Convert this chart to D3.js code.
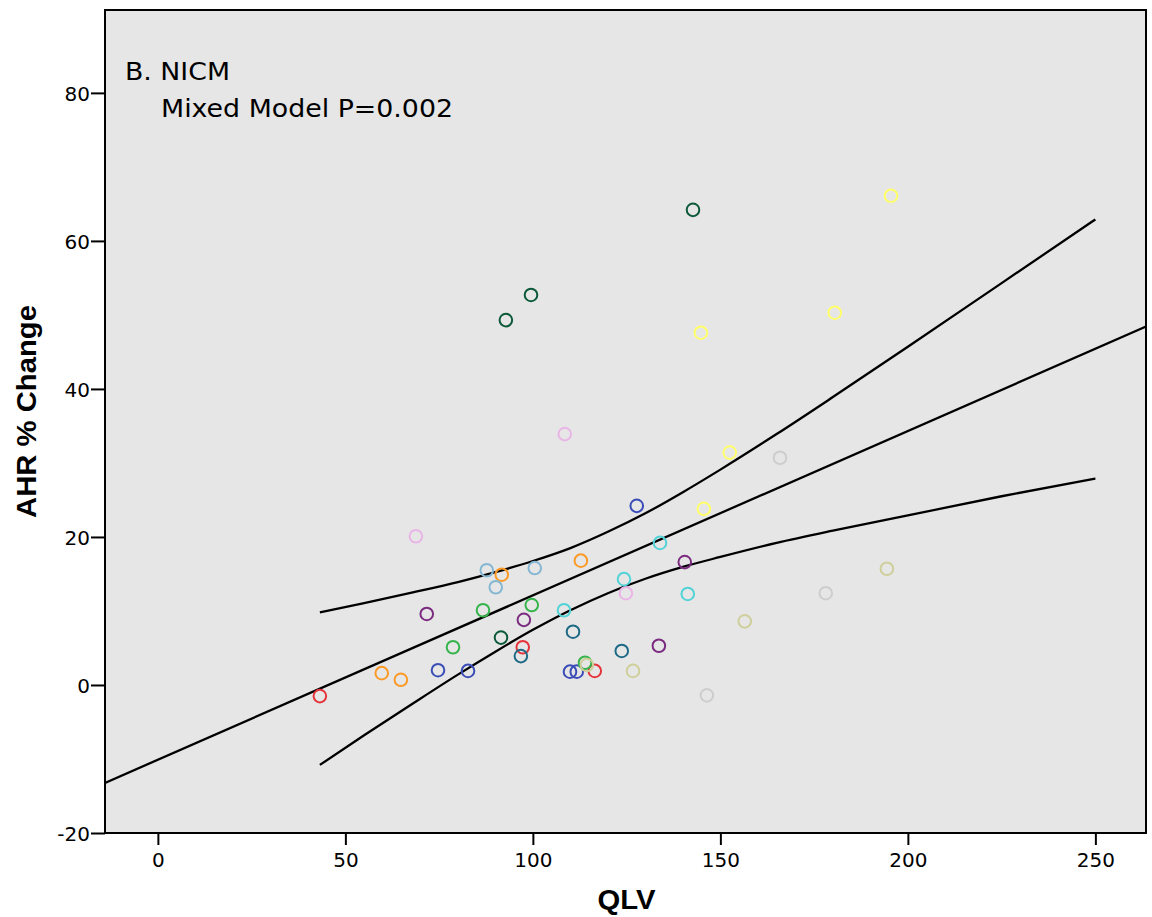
<!DOCTYPE html>
<html>
<head>
<meta charset="utf-8">
<script src="https://cdn.jsdelivr.net/npm/d3@7"></script>
<style>
  html, body { margin: 0; padding: 0; background: #ffffff; }
  svg { display: block; }
</style>
</head>
<body>
<svg id="chart" width="1152" height="917"></svg>
<script>
// ---------- data ----------
const qlvValues = [43.2, 97.3, 116.5,
  59.7, 64.8, 91.7, 112.8,
  74.7, 82.7, 109.9, 111.7, 127.7,
  68.8, 108.5, 124.8,
  71.7, 97.6, 133.6, 140.5,
  78.7, 86.7, 99.7, 113.9,
  87.7, 90.1, 100.5,
  91.5, 92.8, 99.5, 142.7,
  96.8, 110.7, 123.7,
  108.3, 124.3, 133.9, 141.3,
  114.4, 126.7, 156.5, 194.4,
  146.4, 165.9, 178.1,
  144.8, 145.6, 152.5, 180.5, 195.5];
const ahrValues = [-1.5, 5.1, 1.9,
  1.6, 0.7, 14.9, 16.8,
  2.0, 1.9, 1.8, 1.8, 24.2,
  20.1, 33.9, 12.4,
  9.6, 8.8, 5.3, 16.6,
  5.1, 10.1, 10.8, 3.0,
  15.5, 13.2, 15.8,
  6.4, 49.3, 52.7, 64.2,
  3.9, 7.2, 4.6,
  10.1, 14.3, 19.2, 12.3,
  2.7, 1.9, 8.6, 15.7,
  -1.4, 30.7, 12.4,
  47.6, 23.8, 31.4, 50.3, 66.1];
const subjectGroup = ["red","red","red",
  "orange","orange","orange","orange",
  "blue","blue","blue","blue","blue",
  "pink","pink","pink",
  "purple","purple","purple","purple",
  "green","green","green","green",
  "lightblue","lightblue","lightblue",
  "darkgreen","darkgreen","darkgreen","darkgreen",
  "teal","teal","teal",
  "cyan","cyan","cyan","cyan",
  "khaki","khaki","khaki","khaki",
  "gray","gray","gray",
  "yellow","yellow","yellow","yellow","yellow"];
const groupNames  = ["red","orange","blue","pink","purple","green","lightblue","darkgreen","teal","cyan","khaki","gray","yellow"];
const groupColors = ["#e5343b","#fb9a26","#3a4db7","#e9b5e6","#7b2c80","#35b44b","#86b7d2","#0c5a3a","#1e6a86","#52d3d6","#cfcf9b","#cdcdcd","#ffff6a"];

// fitted line (mixed model) and its 95% CI
const fitIntercept = -10.1;
const fitSlope = 0.2221;
const ciX     = [43.2, 55, 68, 80, 90, 100, 110, 120, 130, 140, 150, 165, 180, 200, 225, 250];
const ciUpper = [9.8, 11.05, 12.5, 13.9, 15.25, 16.75, 18.5, 20.7, 23.2, 26.05, 29.1, 33.9, 38.9, 45.7, 54.3, 62.9];
const ciLower = [-10.8, -6.8, -2.5, 1.4, 4.5, 7.45, 10.1, 12.4, 14.35, 15.95, 17.3, 19.2, 20.85, 22.9, 25.5, 27.9];

const xTicks = [0, 50, 100, 150, 200, 250];
const yTicks = [-20, 0, 20, 40, 60, 80];
const xDomain = [-14.1, 263.5];
const yDomain = [-20, 91.2];

const titleLine1 = "B. NICM";
const titleLine2 = "Mixed Model P=0.002";
const xTitle = "QLV";
const yTitle = "AHR % Change";

// ---------- layout ----------
const svg = d3.select("#chart");
const L = 105, T = 10, R = 1146, B = 833;

const x = d3.scaleLinear().domain(xDomain).range([L, R]);
const y = d3.scaleLinear().domain(yDomain).range([B, T]);
const color = d3.scaleOrdinal().domain(groupNames).range(groupColors);

svg.append("rect")
  .attr("x", L).attr("y", T).attr("width", R - L).attr("height", B - T)
  .attr("fill", "#e6e6e6");

svg.append("defs").append("clipPath").attr("id", "clip")
  .append("rect").attr("x", L).attr("y", T).attr("width", R - L).attr("height", B - T);

const plot = svg.append("g").attr("clip-path", "url(#clip)");

// fitted line
plot.append("line")
  .attr("x1", x(xDomain[0])).attr("y1", y(fitIntercept + fitSlope * xDomain[0]))
  .attr("x2", x(xDomain[1])).attr("y2", y(fitIntercept + fitSlope * xDomain[1]))
  .attr("stroke", "#000").attr("stroke-width", 2.3);

const curve = d3.line().x(d => x(d[0])).y(d => y(d[1])).curve(d3.curveMonotoneX);
plot.append("path").datum(ciX.map((v, i) => [v, ciUpper[i]]))
  .attr("d", curve).attr("fill", "none").attr("stroke", "#000").attr("stroke-width", 2.3);
plot.append("path").datum(ciX.map((v, i) => [v, ciLower[i]]))
  .attr("d", curve).attr("fill", "none").attr("stroke", "#000").attr("stroke-width", 2.3);

// points
plot.selectAll("circle.pt").data(qlvValues.map((v, i) => ({ x: v, y: ahrValues[i], g: subjectGroup[i] })))
  .enter().append("circle").attr("class", "pt")
  .attr("cx", d => x(d.x)).attr("cy", d => y(d.y)).attr("r", 6.3)
  .attr("fill", "none").attr("stroke", d => color(d.g)).attr("stroke-width", 2);

// frame
svg.append("rect")
  .attr("x", L).attr("y", T).attr("width", R - L).attr("height", B - T)
  .attr("fill", "none").attr("stroke", "#000").attr("stroke-width", 2);

// axes
const xAxis = d3.axisBottom(x).tickValues(xTicks).tickSize(12).tickPadding(6).tickFormat(d3.format("d"));
const gx = svg.append("g").attr("transform", `translate(0,${B})`).call(xAxis);
gx.select(".domain").remove();
gx.selectAll("line").attr("stroke", "#000").attr("stroke-width", 2);
gx.selectAll("text").attr("font-family", "DejaVu Sans, sans-serif").attr("font-size", 20)
  .attr("fill", "#000").attr("y", 34).attr("dy", null);

const yAxis = d3.axisLeft(y).tickValues(yTicks).tickSize(14).tickPadding(1)
  .tickFormat(d => d < 0 ? "-" + Math.abs(d) : String(d));
const gy = svg.append("g").attr("transform", `translate(${L},0)`).call(yAxis);
gy.select(".domain").remove();
gy.selectAll("line").attr("stroke", "#000").attr("stroke-width", 2);
gy.selectAll("text").attr("font-family", "DejaVu Sans, sans-serif").attr("font-size", 20)
  .attr("fill", "#000").attr("dy", "0.38em");

// axis titles
svg.append("text")
  .attr("x", (L + R) / 2 + 1).attr("y", 909)
  .attr("text-anchor", "middle")
  .attr("font-family", "Liberation Sans Narrow, Arial Narrow, sans-serif")
  .attr("font-weight", "bold").attr("font-size", 28)
  .attr("textLength", 58).attr("lengthAdjust", "spacingAndGlyphs")
  .text(xTitle);

svg.append("text")
  .attr("transform", `translate(36,${(305 + 518) / 2}) rotate(-90)`)
  .attr("text-anchor", "middle")
  .attr("font-family", "Liberation Sans Narrow, Arial Narrow, sans-serif")
  .attr("font-weight", "bold").attr("font-size", 28)
  .attr("textLength", 213).attr("lengthAdjust", "spacingAndGlyphs")
  .text(yTitle);

// annotation
svg.append("text")
  .attr("x", 125).attr("y", 80)
  .attr("font-family", "DejaVu Sans, sans-serif").attr("font-size", 25).attr("fill", "#000")
  .attr("textLength", 105).attr("lengthAdjust", "spacingAndGlyphs")
  .text(titleLine1);
svg.append("text")
  .attr("x", 161).attr("y", 117)
  .attr("font-family", "DejaVu Sans, sans-serif").attr("font-size", 25).attr("fill", "#000")
  .attr("textLength", 292).attr("lengthAdjust", "spacingAndGlyphs")
  .text(titleLine2);
</script>
</body>
</html>
